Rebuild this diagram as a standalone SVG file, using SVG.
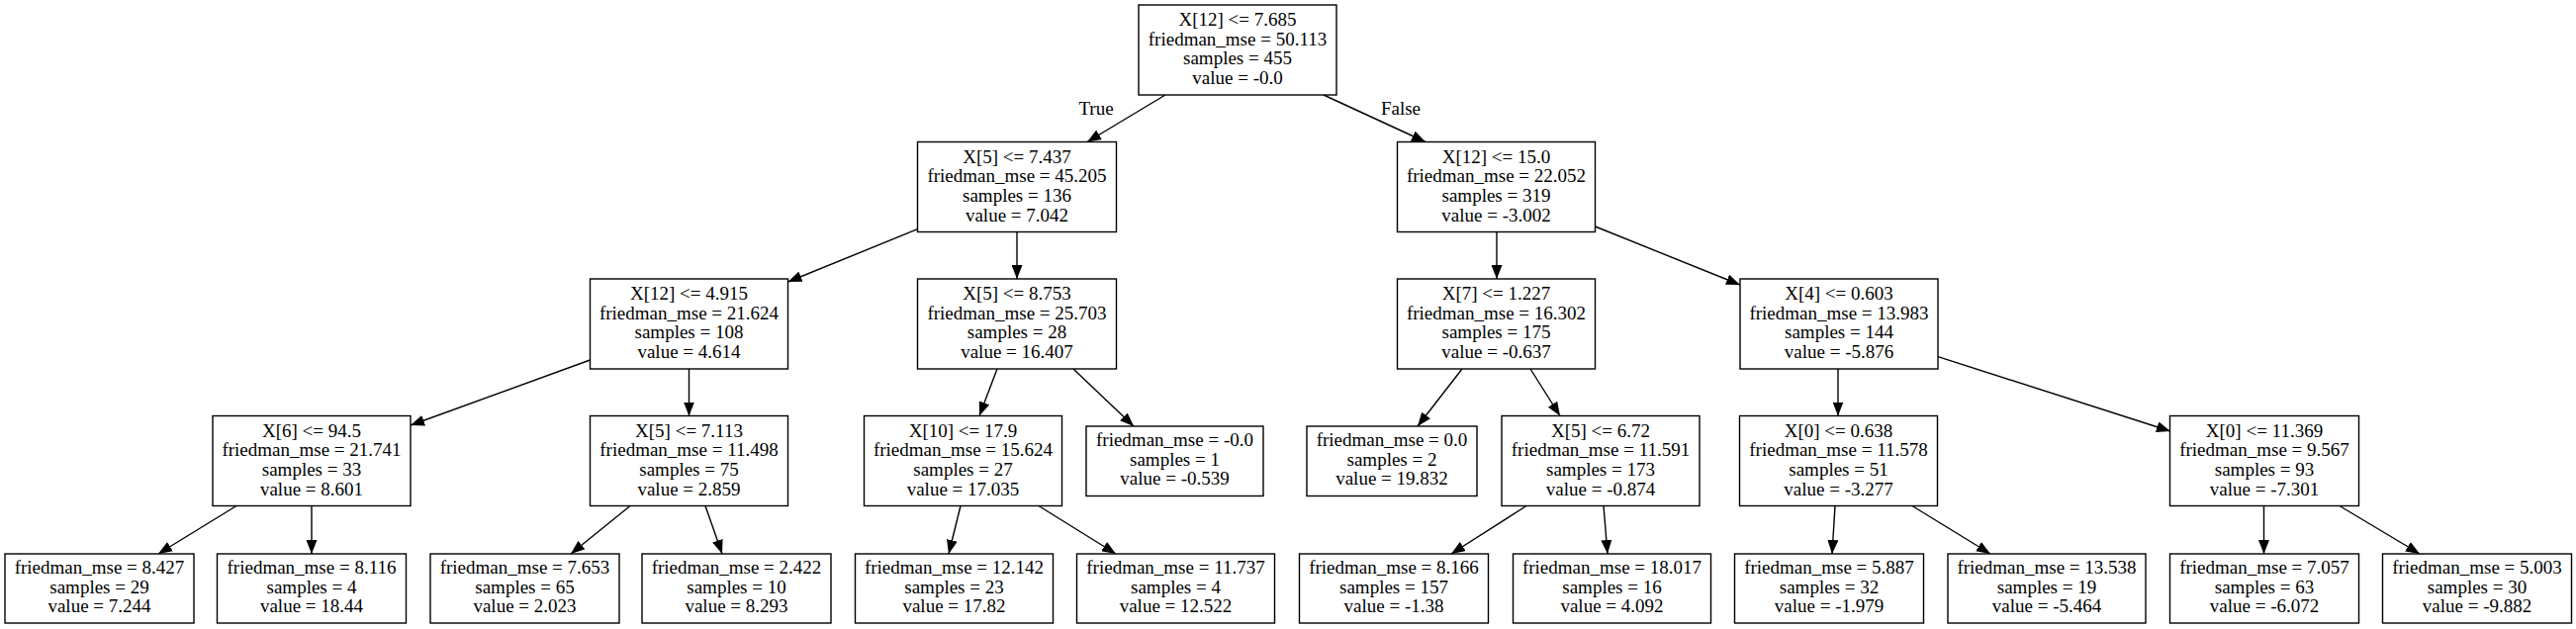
<svg xmlns="http://www.w3.org/2000/svg" width="2604" height="636" viewBox="0 0 2604 636">
<defs>
<marker id="arr" markerUnits="userSpaceOnUse" markerWidth="15" markerHeight="11" refX="14" refY="5.5" orient="auto">
<path d="M0,0 L14,5.5 L0,11 z" fill="#000"/>
</marker>
<style>
rect.n{fill:#fff;stroke:#000;stroke-width:1.4}
text{font-family:"Liberation Serif","Times New Roman",serif;font-size:19px;fill:#000;text-anchor:middle}
.e line{stroke:#000;stroke-width:1.4;marker-end:url(#arr)}
</style>
</defs>
<rect width="2604" height="636" fill="#fff"/>
<g id="edges" class="e">
<line x1="1178" y1="96" x2="1099" y2="143.5"/>
<line x1="1338" y1="96" x2="1441" y2="143.5"/>
<line x1="927.5" y1="231.7" x2="796.5" y2="285"/>
<line x1="1028" y1="234.5" x2="1028" y2="282"/>
<line x1="1513" y1="234.5" x2="1513" y2="282"/>
<line x1="1612.5" y1="229" x2="1759" y2="288"/>
<line x1="596.5" y1="364" x2="415" y2="430"/>
<line x1="696.5" y1="373" x2="696.5" y2="420.5"/>
<line x1="1008" y1="373" x2="990" y2="420.5"/>
<line x1="1085" y1="373" x2="1146" y2="431"/>
<line x1="1478" y1="373" x2="1433" y2="431"/>
<line x1="1547" y1="373" x2="1577" y2="420.5"/>
<line x1="1858" y1="373" x2="1858" y2="420.5"/>
<line x1="1959" y1="360.7" x2="2194" y2="436"/>
<line x1="239" y1="511.5" x2="160" y2="560"/>
<line x1="315" y1="511.5" x2="315" y2="560"/>
<line x1="637" y1="511.5" x2="577" y2="560"/>
<line x1="713" y1="511.5" x2="730" y2="560"/>
<line x1="971" y1="511.5" x2="959" y2="560"/>
<line x1="1050" y1="511.5" x2="1128" y2="560"/>
<line x1="1543" y1="511.5" x2="1467" y2="560"/>
<line x1="1621" y1="511.5" x2="1625" y2="560"/>
<line x1="1855" y1="511.5" x2="1852" y2="560"/>
<line x1="1933" y1="511.5" x2="2012" y2="560"/>
<line x1="2288.5" y1="511.5" x2="2288.5" y2="560"/>
<line x1="2365" y1="511.5" x2="2446" y2="560"/>
<text x="1108" y="116">True</text>
<text x="1416" y="116">False</text>
</g>
<g id="n0"><rect class="n" x="1151" y="5" width="200" height="91"/>
<text x="1251" y="26">X[12] &lt;= 7.685</text><text x="1251" y="45.7">friedman_mse = 50.113</text><text x="1251" y="65.4">samples = 455</text><text x="1251" y="85.1">value = -0.0</text></g>
<g id="n1"><rect class="n" x="927.5" y="143.5" width="201" height="91"/>
<text x="1028" y="164.5">X[5] &lt;= 7.437</text><text x="1028" y="184.2">friedman_mse = 45.205</text><text x="1028" y="203.9">samples = 136</text><text x="1028" y="223.6">value = 7.042</text></g>
<g id="n2"><rect class="n" x="1412.5" y="143.5" width="200" height="91"/>
<text x="1512.5" y="164.5">X[12] &lt;= 15.0</text><text x="1512.5" y="184.2">friedman_mse = 22.052</text><text x="1512.5" y="203.9">samples = 319</text><text x="1512.5" y="223.6">value = -3.002</text></g>
<g id="n3"><rect class="n" x="596.5" y="282" width="200" height="91"/>
<text x="696.5" y="303">X[12] &lt;= 4.915</text><text x="696.5" y="322.7">friedman_mse = 21.624</text><text x="696.5" y="342.4">samples = 108</text><text x="696.5" y="362.1">value = 4.614</text></g>
<g id="n4"><rect class="n" x="927.5" y="282" width="201" height="91"/>
<text x="1028" y="303">X[5] &lt;= 8.753</text><text x="1028" y="322.7">friedman_mse = 25.703</text><text x="1028" y="342.4">samples = 28</text><text x="1028" y="362.1">value = 16.407</text></g>
<g id="n5"><rect class="n" x="1412.5" y="282" width="200" height="91"/>
<text x="1512.5" y="303">X[7] &lt;= 1.227</text><text x="1512.5" y="322.7">friedman_mse = 16.302</text><text x="1512.5" y="342.4">samples = 175</text><text x="1512.5" y="362.1">value = -0.637</text></g>
<g id="n6"><rect class="n" x="1759" y="282" width="200" height="91"/>
<text x="1859" y="303">X[4] &lt;= 0.603</text><text x="1859" y="322.7">friedman_mse = 13.983</text><text x="1859" y="342.4">samples = 144</text><text x="1859" y="362.1">value = -5.876</text></g>
<g id="n7"><rect class="n" x="215" y="420.5" width="200" height="91"/>
<text x="315" y="441.5">X[6] &lt;= 94.5</text><text x="315" y="461.2">friedman_mse = 21.741</text><text x="315" y="480.9">samples = 33</text><text x="315" y="500.6">value = 8.601</text></g>
<g id="n8"><rect class="n" x="596.5" y="420.5" width="200" height="91"/>
<text x="696.5" y="441.5">X[5] &lt;= 7.113</text><text x="696.5" y="461.2">friedman_mse = 11.498</text><text x="696.5" y="480.9">samples = 75</text><text x="696.5" y="500.6">value = 2.859</text></g>
<g id="n9"><rect class="n" x="873.5" y="420.5" width="200" height="91"/>
<text x="973.5" y="441.5">X[10] &lt;= 17.9</text><text x="973.5" y="461.2">friedman_mse = 15.624</text><text x="973.5" y="480.9">samples = 27</text><text x="973.5" y="500.6">value = 17.035</text></g>
<g id="n10"><rect class="n" x="1098" y="431" width="179" height="70.5"/>
<text x="1187.5" y="451">friedman_mse = -0.0</text><text x="1187.5" y="470.7">samples = 1</text><text x="1187.5" y="490.4">value = -0.539</text></g>
<g id="n11"><rect class="n" x="1321" y="431" width="172" height="70.5"/>
<text x="1407" y="451">friedman_mse = 0.0</text><text x="1407" y="470.7">samples = 2</text><text x="1407" y="490.4">value = 19.832</text></g>
<g id="n12"><rect class="n" x="1518" y="420.5" width="200" height="91"/>
<text x="1618" y="441.5">X[5] &lt;= 6.72</text><text x="1618" y="461.2">friedman_mse = 11.591</text><text x="1618" y="480.9">samples = 173</text><text x="1618" y="500.6">value = -0.874</text></g>
<g id="n13"><rect class="n" x="1758.5" y="420.5" width="200" height="91"/>
<text x="1858.5" y="441.5">X[0] &lt;= 0.638</text><text x="1858.5" y="461.2">friedman_mse = 11.578</text><text x="1858.5" y="480.9">samples = 51</text><text x="1858.5" y="500.6">value = -3.277</text></g>
<g id="n14"><rect class="n" x="2193.5" y="420.5" width="191" height="91"/>
<text x="2289" y="441.5">X[0] &lt;= 11.369</text><text x="2289" y="461.2">friedman_mse = 9.567</text><text x="2289" y="480.9">samples = 93</text><text x="2289" y="500.6">value = -7.301</text></g>
<g id="l1"><rect class="n" x="5" y="560" width="191" height="70"/>
<text x="100.5" y="579.8">friedman_mse = 8.427</text><text x="100.5" y="599.5">samples = 29</text><text x="100.5" y="619.2">value = 7.244</text></g>
<g id="l2"><rect class="n" x="219.5" y="560" width="191" height="70"/>
<text x="315" y="579.8">friedman_mse = 8.116</text><text x="315" y="599.5">samples = 4</text><text x="315" y="619.2">value = 18.44</text></g>
<g id="l3"><rect class="n" x="435" y="560" width="191" height="70"/>
<text x="530.5" y="579.8">friedman_mse = 7.653</text><text x="530.5" y="599.5">samples = 65</text><text x="530.5" y="619.2">value = 2.023</text></g>
<g id="l4"><rect class="n" x="649" y="560" width="191" height="70"/>
<text x="744.5" y="579.8">friedman_mse = 2.422</text><text x="744.5" y="599.5">samples = 10</text><text x="744.5" y="619.2">value = 8.293</text></g>
<g id="l5"><rect class="n" x="864.5" y="560" width="200" height="70"/>
<text x="964.5" y="579.8">friedman_mse = 12.142</text><text x="964.5" y="599.5">samples = 23</text><text x="964.5" y="619.2">value = 17.82</text></g>
<g id="l6"><rect class="n" x="1088.5" y="560" width="200" height="70"/>
<text x="1188.5" y="579.8">friedman_mse = 11.737</text><text x="1188.5" y="599.5">samples = 4</text><text x="1188.5" y="619.2">value = 12.522</text></g>
<g id="l7"><rect class="n" x="1313.5" y="560" width="191" height="70"/>
<text x="1409" y="579.8">friedman_mse = 8.166</text><text x="1409" y="599.5">samples = 157</text><text x="1409" y="619.2">value = -1.38</text></g>
<g id="l8"><rect class="n" x="1529.5" y="560" width="200" height="70"/>
<text x="1629.5" y="579.8">friedman_mse = 18.017</text><text x="1629.5" y="599.5">samples = 16</text><text x="1629.5" y="619.2">value = 4.092</text></g>
<g id="l9"><rect class="n" x="1753.5" y="560" width="191" height="70"/>
<text x="1849" y="579.8">friedman_mse = 5.887</text><text x="1849" y="599.5">samples = 32</text><text x="1849" y="619.2">value = -1.979</text></g>
<g id="l10"><rect class="n" x="1969" y="560" width="200" height="70"/>
<text x="2069" y="579.8">friedman_mse = 13.538</text><text x="2069" y="599.5">samples = 19</text><text x="2069" y="619.2">value = -5.464</text></g>
<g id="l11"><rect class="n" x="2193.5" y="560" width="191" height="70"/>
<text x="2289" y="579.8">friedman_mse = 7.057</text><text x="2289" y="599.5">samples = 63</text><text x="2289" y="619.2">value = -6.072</text></g>
<g id="l12"><rect class="n" x="2408.5" y="560" width="191" height="70"/>
<text x="2504" y="579.8">friedman_mse = 5.003</text><text x="2504" y="599.5">samples = 30</text><text x="2504" y="619.2">value = -9.882</text></g>
</svg>
